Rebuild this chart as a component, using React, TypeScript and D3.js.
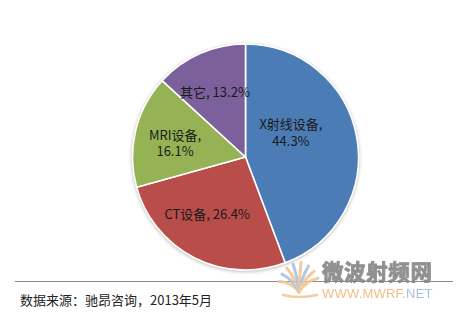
import React from 'react';
import * as d3 from 'd3';

const categories = ['X射线设备', 'CT设备', 'MRI设备', '其它'];
const shares = [44.3, 26.4, 16.1, 13.2];
const colors = ['#4F81BD', '#C0504D', '#9BBB59', '#8064A2'];
const labelWrap = [true, false, true, false];
// label anchor in polar terms: degrees clockwise from 12 o'clock, fraction of radius
const labelAngles = [61.7, 213.7, 280.9, 334.6];
const labelRadii = [0.457, 0.61, 0.635, 0.63];

const footer = '数据来源：驰昂咨询，2013年5月';
const wmTitle = '微波射频网';
const wmUrlA = 'WWW.MWRF.';
const wmUrlB = 'NET';
const fanAngles = [-62, -44, -27, -12, 4, 20, 36, 54];
const fanColors = ['#F3C594', '#A9C3DD', '#F3C594', '#A9C3DD', '#F3C594', '#A9C3DD', '#F3C594', '#F3C594'];

const W = 462;
const H = 313;
const cx = 245.5;
const cy = 157;
const R = 113;

export default function App() {
  const pie = d3.pie<number>().sort(null).value((d) => d).startAngle(0).endAngle(2 * Math.PI);
  const arcs = pie(shares);
  const arc = d3.arc<d3.PieArcDatum<number>>().innerRadius(0).outerRadius(R);
  const font = "'Noto Sans CJK SC', 'Noto Sans', sans-serif";
  const fanBase: [number, number] = [299, 292];

  return (
    <svg width={W} height={H} style={{ position: 'absolute', left: 0, top: 0, background: '#fff' }}>
      <defs>
        {colors.map((c, i) => {
          const hi = d3.color(c)!.brighter(0.12).formatHex();
          const lo = d3.color(c)!.darker(0.12).formatHex();
          return (
            <radialGradient key={i} id={`g${i}`} gradientUnits="userSpaceOnUse" cx={cx} cy={cy} r={R}>
              <stop offset="0" stopColor={hi} />
              <stop offset="0.75" stopColor={c} />
              <stop offset="1" stopColor={lo} />
            </radialGradient>
          );
        })}
        <filter id="blur" x="-20%" y="-20%" width="140%" height="140%">
          <feGaussianBlur stdDeviation="1.5" />
        </filter>
      </defs>
      <circle cx={cx} cy={cy + 1} r={R + 1.5} fill="#cfcfcf" filter="url(#blur)" />
      <g transform={`translate(${cx},${cy})`}>
        {arcs.map((a, i) => (
          <path key={i} d={arc(a)!} fill={`url(#g${i})`} stroke="#fff" strokeWidth={1.6} strokeLinejoin="round" />
        ))}
        {arcs.map((a, i) => {
          const [x, y] = d3.pointRadial((labelAngles[i] * Math.PI) / 180, R * labelRadii[i]);
          const pct = `${shares[i].toFixed(1)}%`;
          if (labelWrap[i]) {
            return (
              <text key={i} x={x} y={y} textAnchor="middle" fontFamily={font} fontSize={13} fill="#1a1a1a">
                <tspan x={x} dy="-0.25em">{`${categories[i]},`}</tspan>
                <tspan x={x} dy="1.25em">{pct}</tspan>
              </text>
            );
          }
          return (
            <text key={i} x={x} y={y} dy="0.35em" textAnchor="middle" fontFamily={font} fontSize={13} fill="#1a1a1a">
              {`${categories[i]}, ${pct}`}
            </text>
          );
        })}
      </g>
      <line x1={15} x2={453} y1={281.5} y2={281.5} stroke="#8c8c8c" strokeWidth={1} />
      <text x={20} y={300} dy="0.35em" fontFamily={font} fontSize={13} fill="#222">
        {footer}
      </text>
      {/* watermark */}
      <g opacity={0.9}>
        {fanAngles.map((ang, i) => {
          const t = (ang * Math.PI) / 180;
          const len = 30 - Math.abs(ang) * 0.12;
          const tip = [fanBase[0] + len * Math.sin(t), fanBase[1] - len * Math.cos(t)];
          const ctrl = [fanBase[0] + len * 0.5 * Math.sin(t * 0.6), fanBase[1] - len * 0.55 * Math.cos(t * 0.6)];
          return (
            <path
              key={i}
              d={`M${fanBase[0]},${fanBase[1]} Q${ctrl[0]},${ctrl[1]} ${tip[0]},${tip[1]}`}
              fill="none"
              stroke={fanColors[i]}
              strokeWidth={3}
              strokeLinecap="round"
            />
          );
        })}
        <path d={`M${fanBase[0] - 16},${fanBase[1] + 3} Q${fanBase[0]},${fanBase[1] + 7} ${fanBase[0] + 18},${fanBase[1] + 3}`} fill="none" stroke="#F3C594" strokeWidth={2.5} strokeLinecap="round" />
        <text x={322} y={280} fontFamily={font} fontWeight={700} fontSize={21.5} fill="#858585" stroke="#858585" strokeWidth={0.9} letterSpacing={0.6}>
          {wmTitle}
        </text>
        <text x={322} y={297.5} fontFamily="'Liberation Sans', Arial, sans-serif" fontSize={13} letterSpacing={0.2}>
          <tspan fill="#F0B67A">{wmUrlA}</tspan>
          <tspan fill="#9DB8D8">{wmUrlB}</tspan>
        </text>
      </g>
    </svg>
  );
}
